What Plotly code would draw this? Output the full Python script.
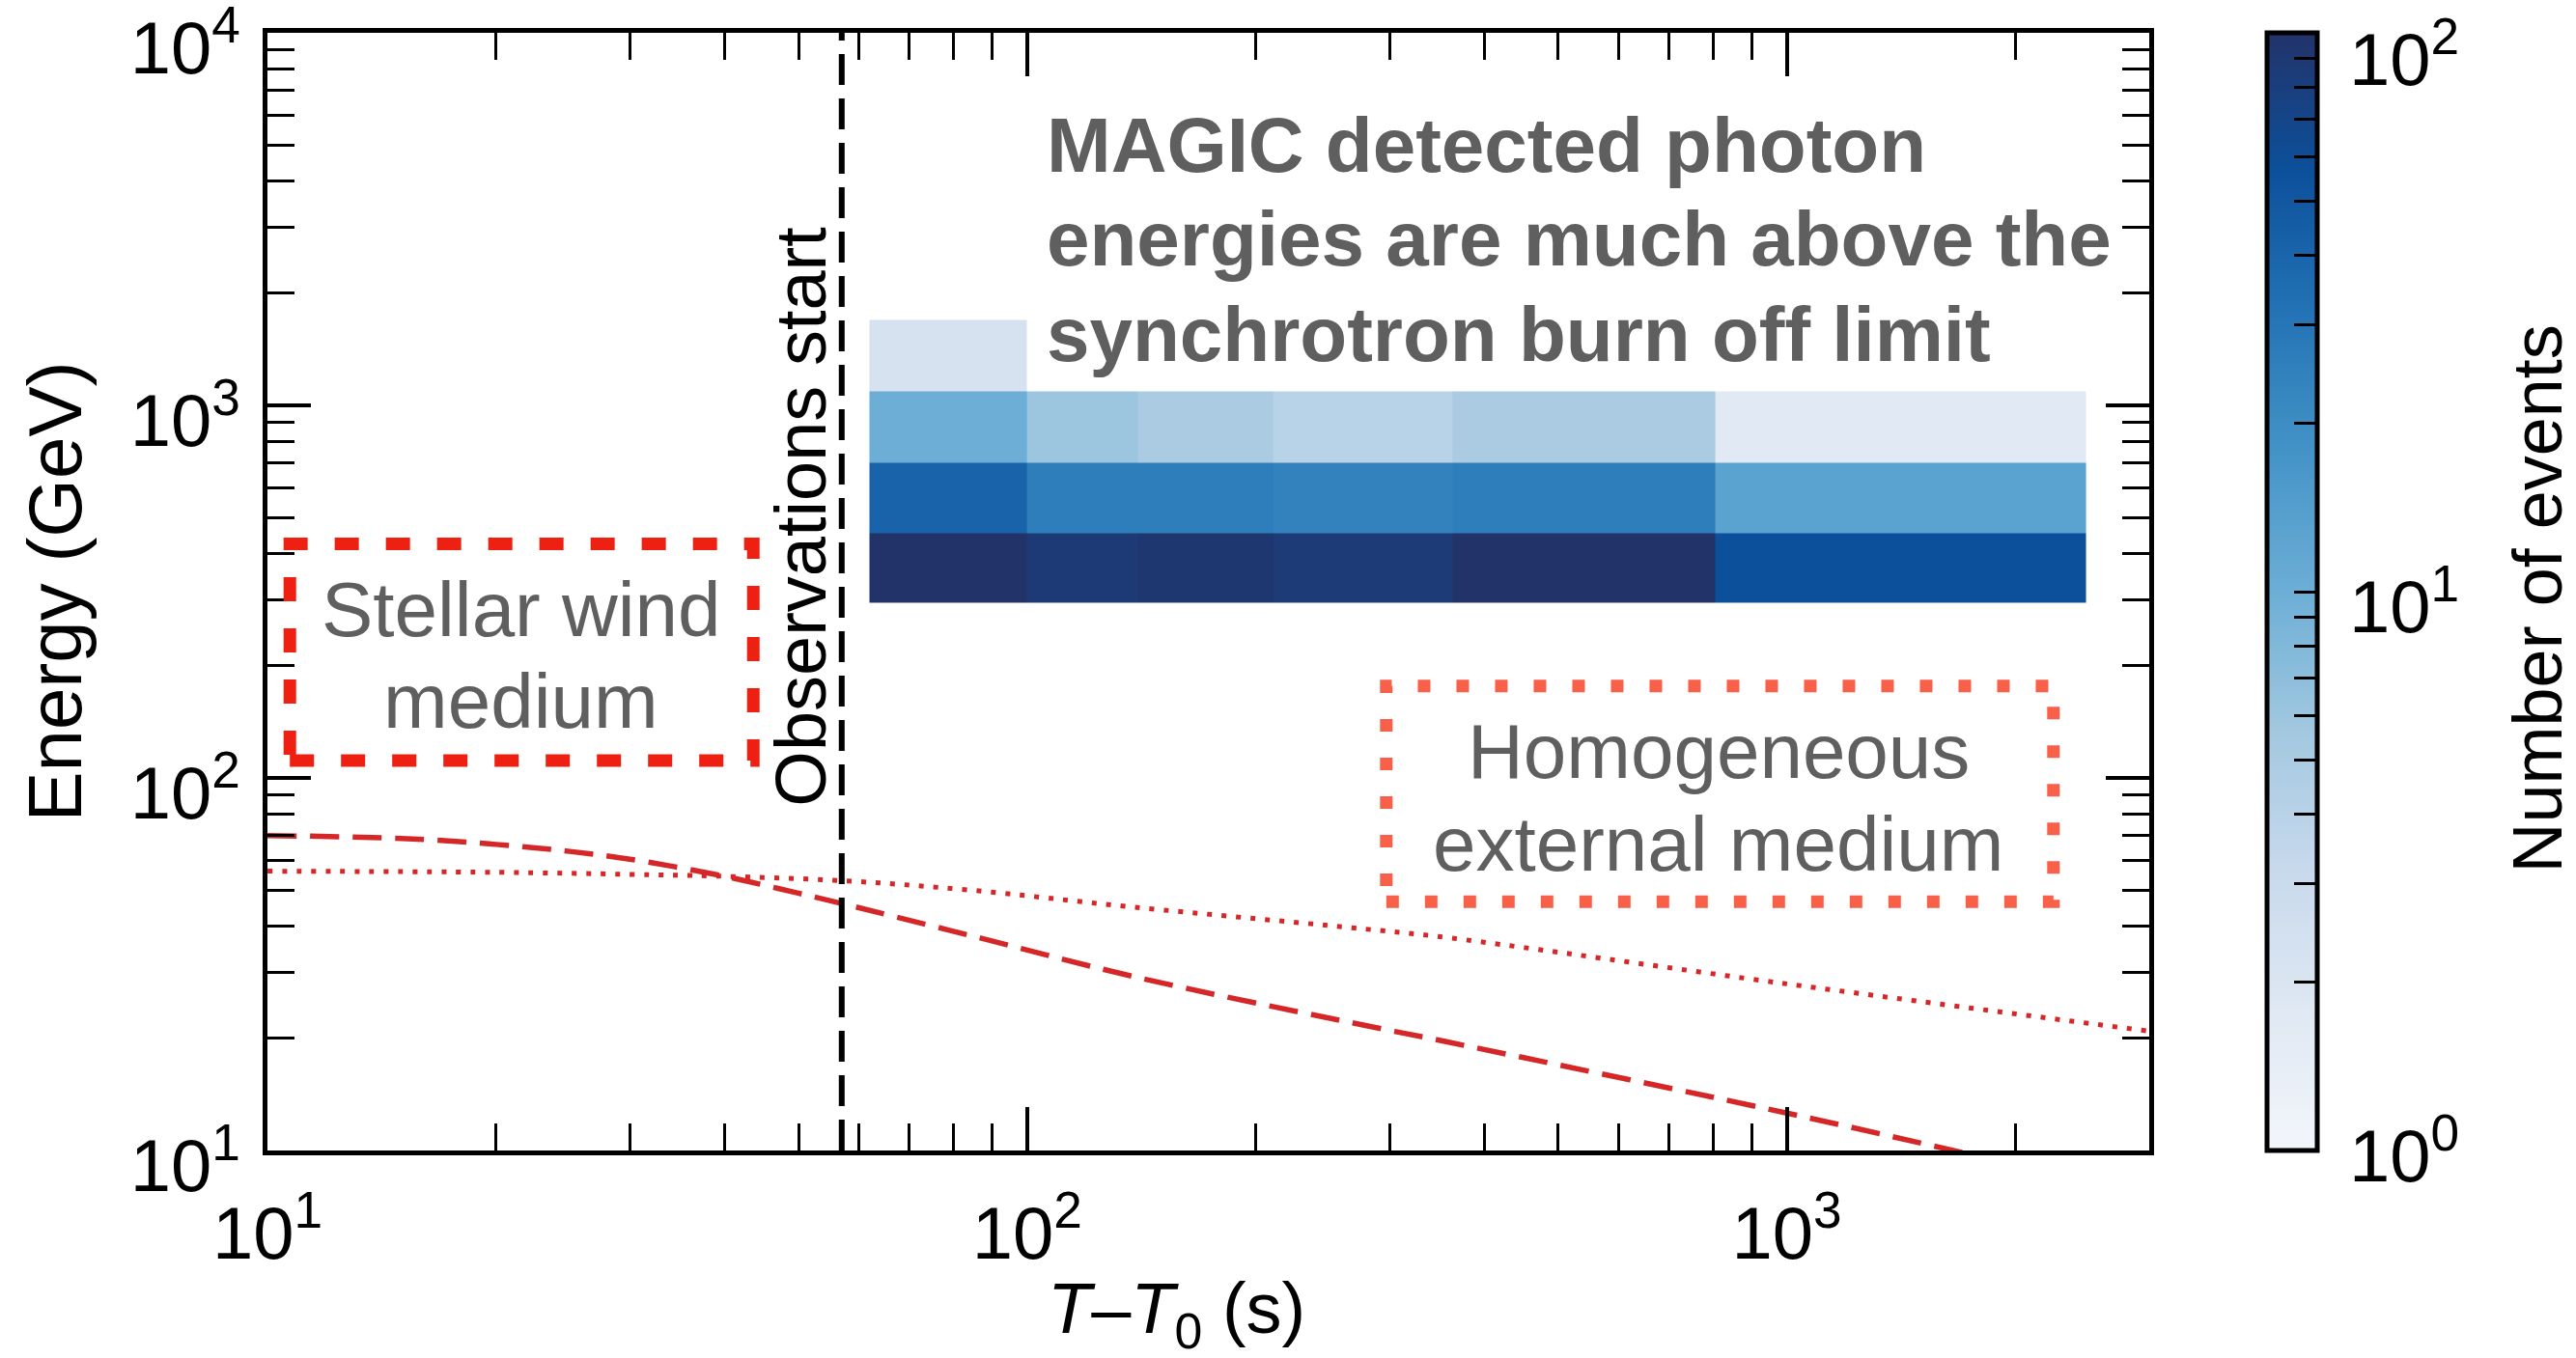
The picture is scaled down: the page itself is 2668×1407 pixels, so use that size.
import numpy as np
import plotly.graph_objects as go

# Event-count map: time bins (s) and energy bins (GeV)
time_edges = [62, 100, 140, 211, 363, 806, 2476]
energy_edges = [295, 455, 703, 1092, 1696]
# Number of events per time bin, one list per energy bin (low to high energy)
counts_295_455 = [100, 87, 92, 86, 100, 56]
counts_455_703 = [41, 26, 26, 24, 26, 13]
counts_703_1092 = [10, 6, 5, 4, 5, 1.7]
counts_1092_1696 = [2.2, None, None, None, None, None]

# Synchrotron burn-off limit vs. time for the two circumburst media
wind_time = [10, 15, 20, 25, 30, 39, 47, 57, 84, 138, 268, 360, 1000, 1656, 3000]
wind_energy = [70, 68.8, 66.3, 63.5, 60.5, 55, 50.5, 46, 37.8, 29.3, 22.0, 19.5, 12.6, 10.0, 7.6]
ism_time = [10, 20, 30, 39, 57, 84, 138, 268, 360, 1000, 3000]
ism_energy = [56.2, 55.8, 55.1, 54.5, 53, 50, 45, 39.6, 37.2, 28, 20.9]

obs_start = 57  # s after T0

x_major = [10, 100, 1000]
x_major_text = ["10<sup>1</sup>", "10<sup>2</sup>", "10<sup>3</sup>"]
y_major = [10, 100, 1000, 10000]
y_major_text = ["10<sup>1</sup>", "10<sup>2</sup>", "10<sup>3</sup>", "10<sup>4</sup>"]
cbar_major = [1, 10, 100]
cbar_major_text = ["10<sup>0</sup>", "10<sup>1</sup>", "10<sup>2</sup>"]

FONT = "Liberation Sans, Arial, Helvetica, sans-serif"
GREY = "#5f5f5f"
EPS = 1e-4  # keeps the decade ticks at the axis ends visible

blues = [
    [0.0, "#f3f6fb"], [0.125, "#dfe8f3"], [0.25, "#c8d9ec"], [0.375, "#a2c8e0"],
    [0.5, "#6caed6"], [0.625, "#4493c7"], [0.75, "#2373b6"], [0.875, "#0c509b"],
    [1.0, "#22336a"],
]

# Colour-bar geometry (paper units / pixels)
CB_X = 1.0626
CB_THICK = 52
PLOT_W = 2668 - 277 - 442
CB_LABEL_X = 1.1054


def minor_ticks(lo_exp, hi_val):
    vals = []
    for e in range(lo_exp, 5):
        for m in range(2, 10):
            v = m * 10 ** e
            if v < hi_val:
                vals.append(v)
    return vals


counts = np.array(
    [counts_295_455, counts_455_703, counts_703_1092, counts_1092_1696], dtype=float
)
z = np.log10(counts)

cbar_vals = [m * 10 ** e for e in range(0, 2) for m in range(1, 10)] + [100]

fig = go.Figure()

fig.add_trace(go.Heatmap(
    x=time_edges, y=energy_edges, z=z,
    zmin=-EPS, zmax=2 + EPS, colorscale=blues, hoverongaps=False,
    colorbar=dict(
        thickness=CB_THICK, len=1, lenmode="fraction", y=0.5, yanchor="middle",
        x=CB_X, xanchor="left", xpad=0, ypad=0,
        outlinewidth=5, outlinecolor="black",
        tickmode="array", tickvals=[np.log10(v) for v in cbar_vals],
        showticklabels=False,
        ticks="inside", ticklen=26, tickwidth=3, tickcolor="black",
    ),
))

fig.add_trace(go.Scatter(
    x=wind_time, y=wind_energy, mode="lines",
    line=dict(color="#d62728", width=5.5, dash="30px,14px", shape="spline"),
))
fig.add_trace(go.Scatter(
    x=ism_time, y=ism_energy, mode="lines",
    line=dict(color="#d62728", width=5, dash="5px,10px", shape="spline"),
))
fig.add_trace(go.Scatter(
    x=[obs_start, obs_start], y=[y_major[0], y_major[-1]], mode="lines",
    line=dict(color="black", width=6, dash="32px,14px"),
))

# Medium boxes
fig.add_shape(type="rect", xref="x", yref="y", x0=10.7, x1=43.6, y0=111.4, y1=425,
              line=dict(color="#ee2012", width=13, dash="25px,28px"))
fig.add_shape(type="rect", xref="x", yref="y", x0=297, x1=2244, y0=46.5, y1=176.6,
              line=dict(color="#f9604a", width=13, dash="13px,27px"))

# Longer major tick at 10^1 on the colour bar
cb_right = CB_X + CB_THICK / PLOT_W
fig.add_shape(type="line", xref="paper", yref="paper",
              x0=cb_right - 42 / PLOT_W, x1=cb_right, y0=0.5, y1=0.5,
              line=dict(color="black", width=3))

annotations = []


def label(text, x, y, size, color=GREY, bold=False, xanchor="center", angle=0):
    t = f"<b>{text}</b>" if bold else text
    annotations.append(dict(
        text=t, x=x, y=y, xref="paper", yref="paper", showarrow=False,
        xanchor=xanchor, yanchor="middle", textangle=angle,
        font=dict(size=size, family=FONT, color=color),
    ))


label("Stellar wind", 0.1349, 0.4839, 80)
label("medium", 0.1349, 0.4018, 80)
label("Homogeneous", 0.7710, 0.357, 80)
label("external medium", 0.7710, 0.274, 80)
label("MAGIC detected photon", 0.4129, 0.8993, 80, bold=True, xanchor="left")
label("energies are much above the", 0.4129, 0.8156, 80, bold=True, xanchor="left")
label("synchrotron burn off limit", 0.4129, 0.7302, 80, bold=True, xanchor="left")
label("Observations start", 0.2837, 0.5676, 74, color="black", angle=-90)
# Axis and colour-bar titles
label("<i>T</i>\u2013<i>T</i><sub>0</sub> (s)", 0.483, -0.1457, 74, color="black")
label("Number of events", 1.206, 0.494, 72, color="black", angle=-90)
# Colour-bar decade labels (log10 of the count sets the position along the bar)
for v, txt, yshift in zip(cbar_major, cbar_major_text, [0, -10, -22]):
    annotations.append(dict(
        text=txt, x=CB_LABEL_X, y=np.log10(v) / 2, xref="paper", yref="paper",
        showarrow=False, xanchor="left", yanchor="middle", yshift=yshift,
        font=dict(size=76, family=FONT, color="black"),
    ))

axis_common = dict(
    type="log", ticks="inside", ticklen=45, tickwidth=3.5, tickcolor="black",
    showline=True, linewidth=5, linecolor="black", mirror="ticks",
    showgrid=False, zeroline=False, ticklabeloverflow="allow", automargin=False,
    tickfont=dict(size=76, family=FONT, color="black"),
)

fig.update_layout(
    width=2668, height=1407,
    margin=dict(l=277, r=442, t=34, b=215, autoexpand=False),
    plot_bgcolor="white", paper_bgcolor="white", showlegend=False,
    font=dict(family=FONT, color="black"),
    annotations=annotations,
    xaxis=dict(
        **axis_common, range=[1 - EPS, np.log10(3000)],
        tickmode="array", tickvals=x_major, ticktext=x_major_text,
        ticklabelstandoff=16,
        minor=dict(tickmode="array", tickvals=minor_ticks(1, 3000), ticks="inside",
                   ticklen=28, tickwidth=3, tickcolor="black", showgrid=False),
    ),
    yaxis=dict(
        **axis_common, range=[1 - EPS, 4 + EPS],
        tickmode="array", tickvals=y_major, ticktext=y_major_text,
        ticklabelstandoff=8, ticklabelshift=15,
        minor=dict(tickmode="array", tickvals=minor_ticks(1, 10000), ticks="inside",
                   ticklen=28, tickwidth=3, tickcolor="black", showgrid=False),
        title=dict(text="Energy (GeV)",
                   font=dict(size=78, family=FONT, color="black"), standoff=26),
    ),
)

fig.write_html("out.html")
